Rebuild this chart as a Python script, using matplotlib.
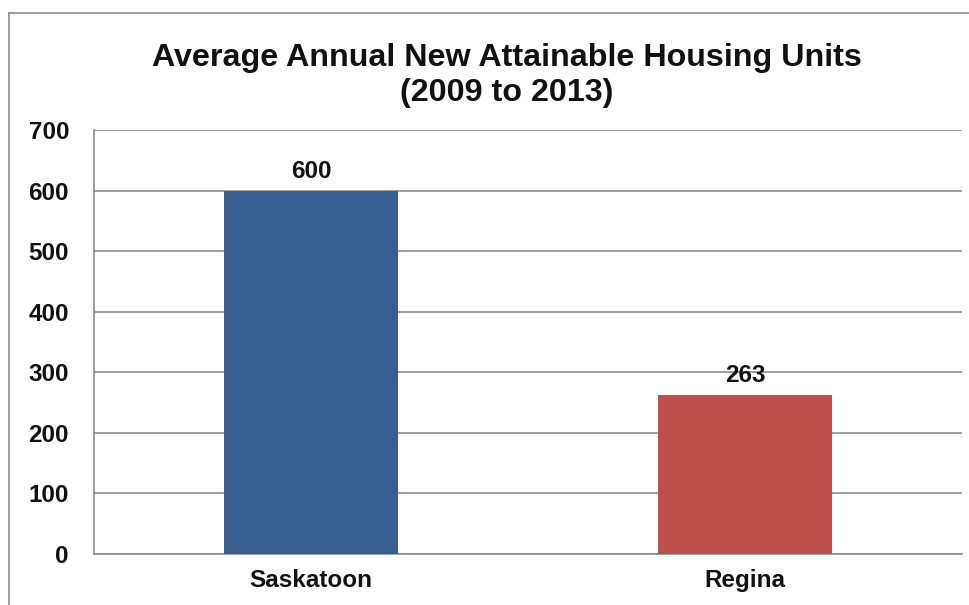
import matplotlib
matplotlib.use("Agg")
import matplotlib.pyplot as plt
from matplotlib.lines import Line2D

cities = ["Saskatoon", "Regina"]
units = [600, 263]
bar_colors = ["#365E8F", "#BE4F4C"]
y_ticks = [0, 100, 200, 300, 400, 500, 600, 700]

plt.rcParams["font.family"] = ["Liberation Sans", "DejaVu Sans"]

W, H = 969, 605
fig = plt.figure(figsize=(W / 100, H / 100), dpi=100)
ax = fig.add_axes([94 / W, 1 - 554 / H, (962 - 94) / W, (554 - 130) / H])

x = list(range(len(cities)))
ax.bar(x, units, width=0.4, color=bar_colors, zorder=3)
for xi, v in zip(x, units):
    ax.text(xi, v + 13, f"{v}", ha="center", va="bottom",
            fontsize=17.5, fontweight="bold", color="#111111", zorder=4)

ax.set_xlim(-0.5, 1.5)
ax.set_ylim(0, 700)
ax.set_yticks(y_ticks)
ax.set_yticklabels([str(t) for t in y_ticks], fontsize=17.5, fontweight="bold")
ax.set_xticks(x)
ax.set_xticklabels(cities, fontsize=17.5, fontweight="bold")
ax.tick_params(axis="both", length=0, colors="#111111")
ax.tick_params(axis="y", pad=18)
ax.tick_params(axis="x", pad=11)
ax.grid(axis="y", color="#8C8C8C", linewidth=1.2, zorder=0)
for side in ["top", "right"]:
    ax.spines[side].set_visible(False)
for side in ["left", "bottom"]:
    ax.spines[side].set_color("#8C8C8C")
    ax.spines[side].set_linewidth(1.2)

fig.text(507 / W, 1 - 58 / H, "Average Annual New Attainable Housing Units",
         ha="center", va="center", fontsize=23.2, fontweight="bold", color="#111111")
fig.text(507 / W, 1 - 93 / H, "(2009 to 2013)",
         ha="center", va="center", fontsize=23.2, fontweight="bold", color="#111111")

# outer frame: left and top edges
fig.add_artist(Line2D([9 / W, 9 / W], [0, 1 - 13 / H], transform=fig.transFigure,
                      color="#8C8C8C", linewidth=1.2))
fig.add_artist(Line2D([9 / W, 1], [1 - 13 / H, 1 - 13 / H], transform=fig.transFigure,
                      color="#8C8C8C", linewidth=1.2))

fig.savefig("out.png", dpi=100)
